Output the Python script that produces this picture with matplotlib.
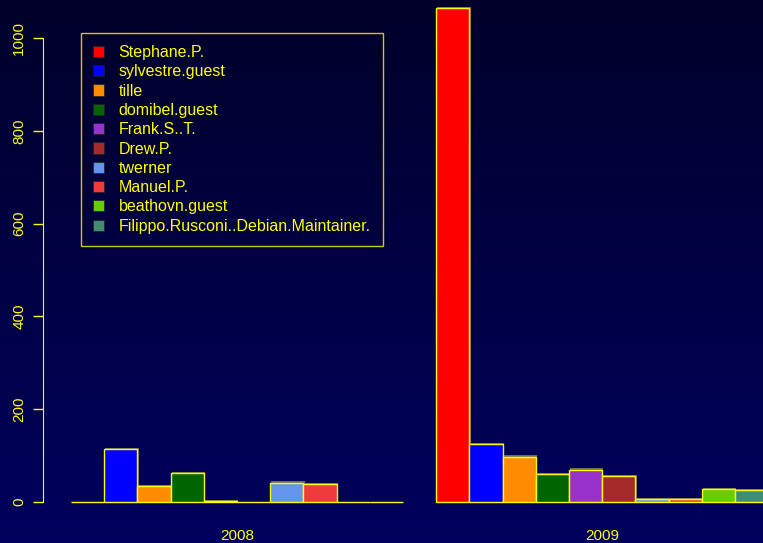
import numpy as np
import matplotlib
matplotlib.use('Agg')
import matplotlib.pyplot as plt
import matplotlib.patheffects as pe
from matplotlib.colors import LinearSegmentedColormap
from matplotlib.patches import Patch

plt.rcParams['font.family'] = ['Liberation Sans', 'DejaVu Sans']

years = ['2008', '2009']
people = ['Stephane.P.', 'sylvestre.guest', 'tille', 'domibel.guest',
          'Frank.S..T.', 'Drew.P.', 'twerner', 'Manuel.P.',
          'beathovn.guest', 'Filippo.Rusconi..Debian.Maintainer.']
commits_2008 = [0, 114, 35, 62, 2, 0, 42, 38, 0, 0]
commits_2009 = [1065, 125, 98, 61, 70, 55, 6, 7, 27, 25]
colors = ['#FF0000', '#0000FF', '#FF8C00', '#006400', '#9932CC',
          '#A52A2A', '#6495ED', '#EE3B3B', '#66CD00', '#458B74']

yellow = '#FFFF00'

fig = plt.figure(figsize=(7.63, 5.43), dpi=100)

# background gradient
bg = fig.add_axes([0, 0, 1, 1], zorder=-10)
cmap = LinearSegmentedColormap.from_list('bg', ['#00002a', '#00005e'])
bg.imshow(np.linspace(0, 1, 256).reshape(-1, 1), aspect='auto', cmap=cmap,
          extent=[0, 1, 0, 1])
bg.set_axis_off()

W, H = 763.0, 543.0
ax = fig.add_axes([43 / W, (H - 522) / H, 720 / W, 522 / H])
ax.set_facecolor('none')

shadow = [pe.SimplePatchShadow(offset=(0.8, 0.8), shadow_rgbFace=(0.55, 0.55, 0.3), alpha=0.8),
          pe.Normal()]

data = [commits_2008, commits_2009]
for g, vals in enumerate(data):
    start = 1 + g * (len(people) + 1)
    xs = start + np.arange(len(people))
    bars = ax.bar(xs, vals, width=1.0, align='edge', color=colors,
                  edgecolor=yellow, linewidth=1.0)
    for b in bars:
        b.set_path_effects(shadow)
    ax.text(start + len(people) / 2, -0.026, years[g], transform=ax.get_xaxis_transform(),
            color=yellow, fontsize=11, ha='center', va='center')

ax.set_xlim(0.157, 21.84)
ax.set_ylim(-43.1, 1081.9)

for s in ['top', 'right', 'bottom']:
    ax.spines[s].set_visible(False)
ax.spines['left'].set_color(yellow)
ax.spines['left'].set_bounds(0, 1000)
ax.set_xticks([])
ax.set_yticks([0, 200, 400, 600, 800, 1000])
ax.tick_params(axis='y', colors=yellow, length=7, width=1, labelsize=11, pad=5)
for lab in ax.get_yticklabels():
    lab.set_rotation(90)
    lab.set_va('center')

handles = [Patch(facecolor=c, edgecolor='#202020', linewidth=0.5) for c in colors]
leg = fig.legend(handles, people, loc='upper left',
                 bbox_to_anchor=(81 / W, 1 - 33 / H), bbox_transform=fig.transFigure,
                 frameon=True, fancybox=False, fontsize=11.5, labelcolor=yellow,
                 handlelength=0.7, handleheight=0.7, handletextpad=0.9,
                 labelspacing=0.27, borderpad=0.75, borderaxespad=0)
leg.get_frame().set_facecolor('none')
leg.get_frame().set_edgecolor(yellow)
leg.get_frame().set_linewidth(1.0)

fig.savefig('out.png', dpi=100)
